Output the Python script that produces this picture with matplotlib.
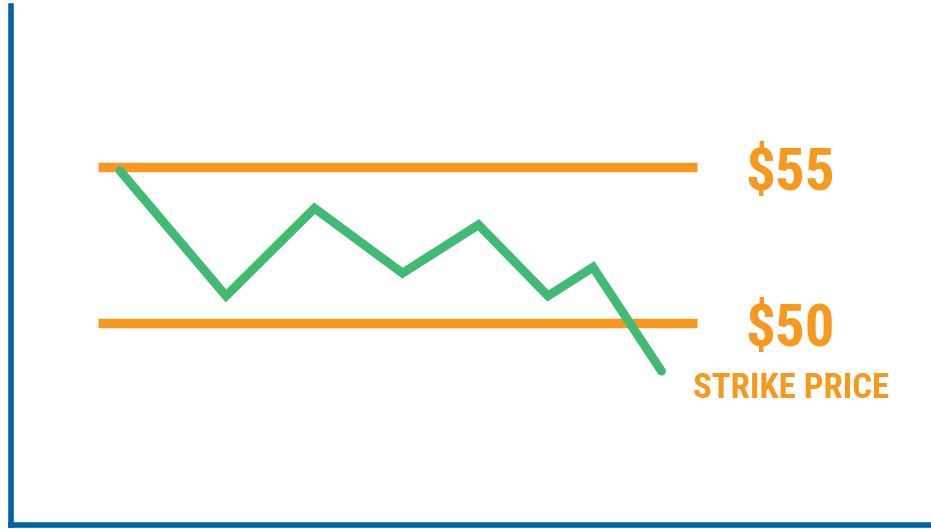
import matplotlib
matplotlib.use("Agg")
import matplotlib.pyplot as plt
from matplotlib import font_manager

# ---- data ----
time_points = [10.95, 21.55, 30.4, 39.2, 46.8, 53.75, 58.25, 65.1]
prices = [54.88, 50.87, 53.68, 51.60, 53.15, 50.87, 51.79, 48.46]
level_prices = [55, 50]
level_labels = ["$55", "$50"]
level_start, level_end = 8.75, 68.6
strike_label = "STRIKE PRICE"

ORANGE = "#F7991F"
GREEN = "#41BA74"
BLUE = "#0062A5"

names = {f.name for f in font_manager.fontManager.ttflist}
fam = [n for n in ["Roboto Condensed", "Liberation Sans Narrow", "Roboto", "DejaVu Sans"] if n in names]

W, H = 931, 529
fig = plt.figure(figsize=(W / 100, H / 100), dpi=100)
ax = fig.add_axes([10.5 / W, 4 / H, 1 - 10.5 / W, (525 - 6) / H])
ax.set_xlim(0, (W - 10.5) / 10)
ax.set_ylim(43.53, 60.16)

for p in level_prices:
    ax.hlines(p, level_start, level_end, color=ORANGE, lw=6.8, capstyle="butt", zorder=2)

ax.plot(time_points, prices, color=GREEN, lw=6.4, solid_capstyle="round",
        solid_joinstyle="miter", zorder=3)

for p, lab in zip(level_prices, level_labels):
    ax.text(73.45, p - 0.73, lab, color=ORANGE, fontsize=42.5, fontweight="bold",
            family=fam, ha="left", va="baseline", zorder=4)
ax.text(68.25, 47.60, strike_label, color=ORANGE, fontsize=25, fontweight="bold",
        family=fam, ha="left", va="baseline", zorder=4)

for s in ["top", "right"]:
    ax.spines[s].set_visible(False)
for s in ["left", "bottom"]:
    ax.spines[s].set_color(BLUE)
    ax.spines[s].set_linewidth(4)
    ax.spines[s].set_capstyle("projecting")
ax.set_xticks([])
ax.set_yticks([])
ax.patch.set_alpha(0)

fig.savefig("out.png", dpi=100)
